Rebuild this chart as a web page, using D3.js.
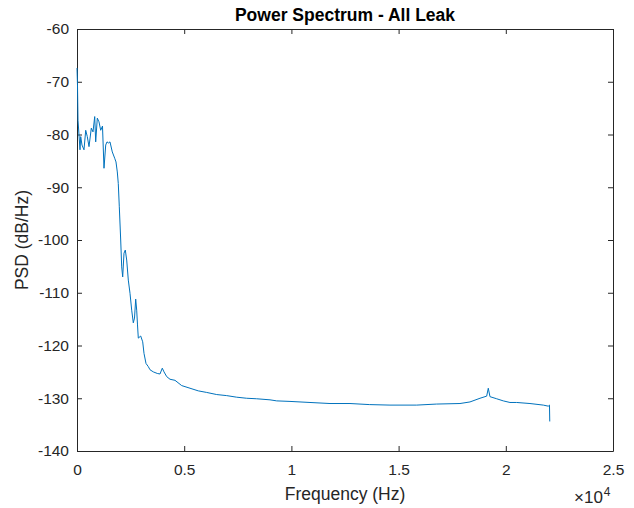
<!DOCTYPE html>
<html>
<head>
<meta charset="utf-8">
<script src="https://cdn.jsdelivr.net/npm/d3@7"></script>
<style>
  body { margin: 0; background: #fff; }
  svg { font-family: Arial, "Liberation Sans", Helvetica, sans-serif; }
</style>
</head>
<body>
<div id="chart"></div>
<script>
const width = 634;
const height = 508;
const margin = { top: 29, right: 21, bottom: 57, left: 77 };

// PSD trace (Hz, dB/Hz)
const freqHz = [0, 23, 47, 140, 173, 233, 326, 406, 480, 560, 667, 746, 826, 872, 947,
  1026, 1105, 1189, 1259, 1339, 1399, 1469, 1539, 1646, 1758, 1819, 1880, 1926, 1973,
  2038, 2085, 2131, 2192, 2253, 2318, 2393, 2472, 2551, 2626, 2682, 2738, 2784, 2822,
  2859, 2971, 3064, 3125, 3218, 3325, 3405, 3559, 3745, 3871, 3978, 4058, 4184, 4338,
  4571, 4883, 5270, 5657, 6049, 6516, 6982, 7448, 7915, 8381, 9002, 9314, 9934, 10867,
  11800, 12733, 13633, 14598, 15843, 16776, 17863, 18329, 18796, 19108, 19183, 19262,
  19575, 19882, 20195, 20508, 21128, 21748, 21982, 22037, 22050];
const psdDb = [-67.4, -70.6, -77.3, -82.9, -80.4, -82.0, -82.9, -79.2, -80.4, -82.3,
  -78.8, -79.5, -76.6, -81.4, -76.9, -77.6, -79.2, -78.4, -86.4, -82.0, -81.4, -81.6,
  -81.4, -83.3, -84.5, -85.2, -87.1, -89.3, -93.7, -100.0, -105.1, -107.0, -102.5,
  -101.9, -103.8, -107.6, -110.1, -113.3, -115.7, -114.8, -111.2, -113.3, -116.1,
  -118.6, -118.2, -119.3, -121.5, -123.4, -124.0, -124.6, -125.0, -125.3, -125.4,
  -124.3, -125.0, -125.9, -126.4, -126.6, -127.6, -128.1, -128.6, -128.9, -129.3,
  -129.5, -129.8, -130.0, -130.1, -130.3, -130.5, -130.6, -130.8, -131.0, -131.0,
  -131.2, -131.3, -131.3, -131.1, -131.0, -130.7, -130.0, -129.6, -128.1, -129.7,
  -130.1, -130.5, -130.8, -130.8, -131.0, -131.3, -131.5, -131.3, -134.4];

const xTicks = [0, 5000, 10000, 15000, 20000, 25000];
const xTickLabels = ["0", "0.5", "1", "1.5", "2", "2.5"];
const yTicks = [-140, -130, -120, -110, -100, -90, -80, -70, -60];

const data = freqHz.map((f, i) => ({ f: f, p: psdDb[i] }));

const svg = d3.select("#chart").append("svg")
  .attr("width", width)
  .attr("height", height);

const x = d3.scaleLinear().domain([0, 25000]).range([margin.left, width - margin.right]);
const y = d3.scaleLinear().domain([-140, -60]).range([height - margin.bottom, margin.top]);

const axisColor = "#262626";

// bottom axis
const xAxis = svg.append("g")
  .attr("transform", "translate(0," + (height - margin.bottom) + ")")
  .call(d3.axisBottom(x).tickValues(xTicks).tickSizeInner(-5).tickSizeOuter(0)
    .tickPadding(13).tickFormat((d, i) => xTickLabels[i]));
// top axis (ticks only)
const xTop = svg.append("g")
  .attr("transform", "translate(0," + margin.top + ")")
  .call(d3.axisTop(x).tickValues(xTicks).tickSizeInner(-5).tickSizeOuter(0).tickFormat(""));
// left axis, plain hyphen for the minus sign like the original
const yAxis = svg.append("g")
  .attr("transform", "translate(" + margin.left + ",0)")
  .call(d3.axisLeft(y).tickValues(yTicks).tickSizeInner(-5).tickSizeOuter(0)
    .tickPadding(8).tickFormat(d => String(d)));
// right axis (ticks only)
const yRight = svg.append("g")
  .attr("transform", "translate(" + (width - margin.right) + ",0)")
  .call(d3.axisRight(y).tickValues(yTicks).tickSizeInner(-5).tickSizeOuter(0).tickFormat(""));

[xAxis, xTop, yAxis, yRight].forEach(function(g) {
  g.selectAll("path").attr("stroke", axisColor).attr("stroke-width", 1);
  g.selectAll("line").attr("stroke", axisColor);
  g.selectAll("text").attr("fill", axisColor).style("font-size", "15.5px");
});

// the trace
svg.append("path")
  .datum(data)
  .attr("fill", "none")
  .attr("stroke", "#0072BD")
  .attr("stroke-width", 1)
  .attr("stroke-linejoin", "round")
  .attr("d", d3.line().x(d => x(d.f)).y(d => y(d.p)));

// title
svg.append("text")
  .attr("x", (margin.left + width - margin.right) / 2)
  .attr("y", 21)
  .attr("text-anchor", "middle")
  .style("font-size", "17.5px")
  .style("font-weight", "bold")
  .attr("fill", "#000")
  .text("Power Spectrum - All Leak");

// axis labels
svg.append("text")
  .attr("x", (margin.left + width - margin.right) / 2)
  .attr("y", 500)
  .attr("text-anchor", "middle")
  .style("font-size", "17.5px")
  .attr("fill", axisColor)
  .text("Frequency (Hz)");

svg.append("text")
  .attr("transform", "translate(28," + ((margin.top + height - margin.bottom) / 2) + ") rotate(-90)")
  .attr("text-anchor", "middle")
  .style("font-size", "17.5px")
  .attr("fill", axisColor)
  .text("PSD (dB/Hz)");

// exponent label
const expo = svg.append("text")
  .attr("x", 574)
  .attr("y", 503)
  .style("font-size", "17px")
  .attr("fill", axisColor);
expo.append("tspan").text("\u00d710");
expo.append("tspan").attr("dx", 1).attr("dy", -7).style("font-size", "12px").text("4");
</script>
</body>
</html>
